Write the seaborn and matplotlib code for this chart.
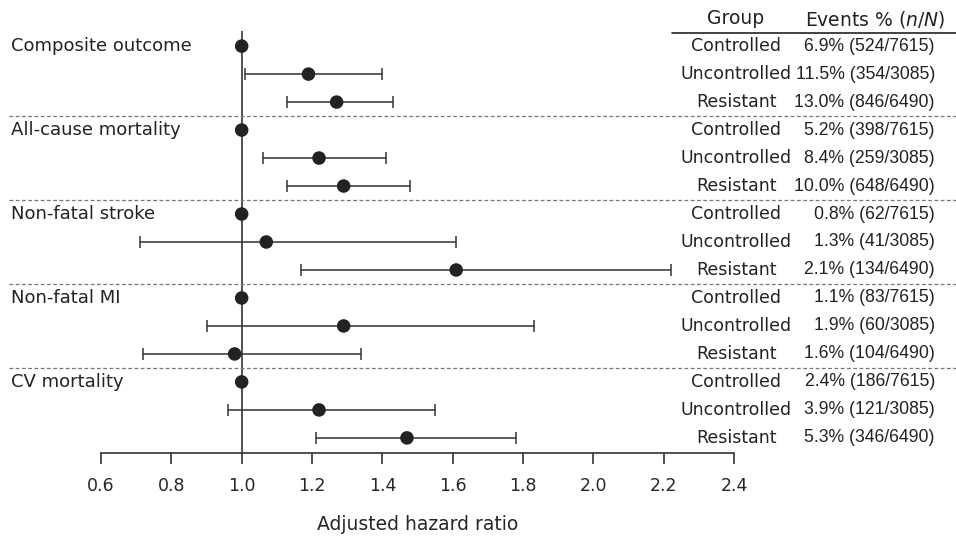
import numpy as np
import pandas as pd
import seaborn as sns
import matplotlib.pyplot as plt
from matplotlib.transforms import blended_transform_factory

outcomes = ['Composite outcome', 'All-cause mortality', 'Non-fatal stroke', 'Non-fatal MI', 'CV mortality']
groups = ['Controlled', 'Uncontrolled', 'Resistant']

# hazard ratios and 95% CI, 3 rows per outcome (controlled = reference)
hr = [1.00, 1.19, 1.27,
      1.00, 1.22, 1.29,
      1.00, 1.07, 1.61,
      1.00, 1.29, 0.98,
      1.00, 1.22, 1.47]
ci_low = [np.nan, 1.01, 1.13,
          np.nan, 1.06, 1.13,
          np.nan, 0.71, 1.17,
          np.nan, 0.90, 0.72,
          np.nan, 0.96, 1.21]
ci_high = [np.nan, 1.40, 1.43,
           np.nan, 1.41, 1.48,
           np.nan, 1.61, 2.22,
           np.nan, 1.83, 1.34,
           np.nan, 1.55, 1.78]
events = ['6.9% (524/7615)', '11.5% (354/3085)', '13.0% (846/6490)',
          '5.2% (398/7615)', '8.4% (259/3085)', '10.0% (648/6490)',
          '0.8% (62/7615)', '1.3% (41/3085)', '2.1% (134/6490)',
          '1.1% (83/7615)', '1.9% (60/3085)', '1.6% (104/6490)',
          '2.4% (186/7615)', '3.9% (121/3085)', '5.3% (346/6490)']
xticks = [0.6, 0.8, 1.0, 1.2, 1.4, 1.6, 1.8, 2.0, 2.2, 2.4]

df = pd.DataFrame({
    'outcome': np.repeat(outcomes, 3),
    'group': groups * len(outcomes),
    'hr': hr, 'lo': ci_low, 'hi': ci_high, 'events': events,
})
df['row'] = np.arange(len(df))

sns.set_style('white')
plt.rcParams['font.family'] = ['DejaVu Sans']
num_font = ['Liberation Sans', 'DejaVu Sans']

W, H = 956, 538
fig = plt.figure(figsize=(W / 100, H / 100), dpi=100)
# axes: 0.6 -> px 101, 2.4 -> px 734; top px 31, spine px 453
ax = fig.add_axes([101 / W, (H - 453) / H, 633 / W, (453 - 31) / H])
ax.set_xlim(0.6, 2.4)
ax.set_ylim(len(df) - 1 + 0.54, -0.54)

ink = '#222222'
ax.axvline(1.0, color='#444444', lw=1.3, zorder=1)

ci = df.dropna(subset=['lo'])
ax.errorbar(ci['hr'], ci['row'],
            xerr=[ci['hr'] - ci['lo'], ci['hi'] - ci['hr']],
            fmt='none', ecolor='#333333', elinewidth=1.1, capsize=4.5, capthick=1.1, zorder=2)
sns.scatterplot(data=df, x='hr', y='row', ax=ax, color=ink, s=95, edgecolor='none',
                zorder=3, legend=False)

# dashed separators between outcomes
for k in range(1, len(outcomes)):
    ax.axhline(3 * k - 0.5, xmin=(9 - 101) / 633, xmax=(956 - 101) / 633,
               color='#777777', ls=(0, (3, 2)), lw=0.9, clip_on=False)

ax.set_xticks(xticks)
ax.set_xticklabels([f'{t:.1f}' for t in xticks], fontsize=12.5)
ax.set_yticks([])
ax.set_ylabel('')
ax.set_xlabel('Adjusted hazard ratio', fontsize=13.5, labelpad=15)
for s in ['left', 'right', 'top']:
    ax.spines[s].set_visible(False)
ax.spines['bottom'].set_color('#333333')
ax.spines['bottom'].set_linewidth(1.2)
ax.tick_params(axis='x', direction='out', length=8, width=1.2, color='#333333', pad=9,
               bottom=True)

tr = blended_transform_factory(fig.transFigure, ax.transData)
for i, name in enumerate(outcomes):
    ax.text(11 / W, 3 * i, name, transform=tr, ha='left', va='center', fontsize=13, color=ink)
for _, r in df.iterrows():
    ax.text(736 / W, r['row'], r['group'], transform=tr, ha='center', va='center',
            fontsize=12.5, color=ink)
    ax.text(935 / W, r['row'], r['events'], transform=tr, ha='right', va='center',
            fontsize=12.7, color=ink, family=num_font)

fig.text(736 / W, 1 - 19 / H, 'Group', ha='center', va='center', fontsize=13.5, color=ink)
fig.text(945 / W, 1 - 19 / H, r'Events % ($n$/$N$)', ha='right', va='center',
         fontsize=13.5, color=ink)
fig.add_artist(plt.Line2D([672 / W, 1.0], [1 - 33 / H, 1 - 33 / H],
                          transform=fig.transFigure, color='#222222', lw=1.2))

fig.savefig('out.png', dpi=100)
